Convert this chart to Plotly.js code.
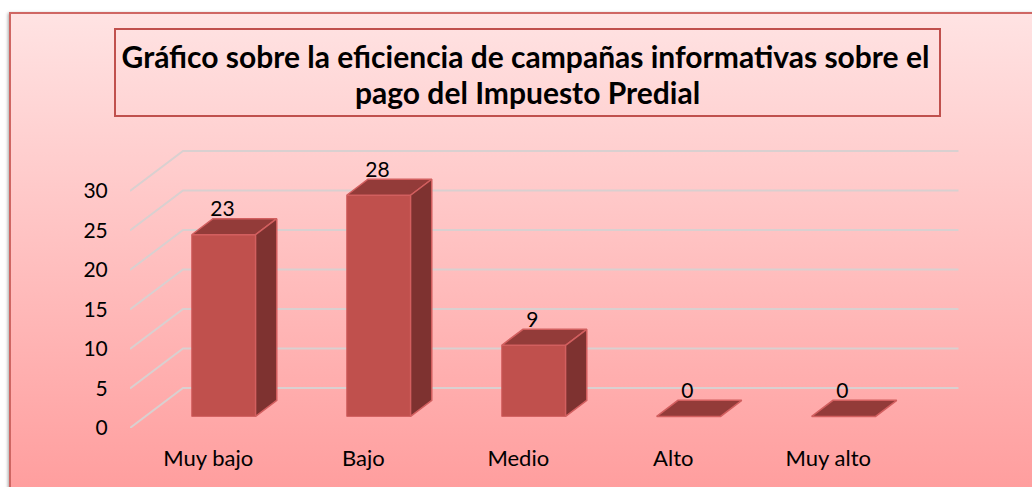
<!DOCTYPE html>
<html><head><meta charset="utf-8">
<script src="https://cdn.plot.ly/plotly-3.0.1.min.js"></script>
<style>
html,body{margin:0;padding:0;background:#fff;width:1032px;height:487px;overflow:hidden}
#bg{position:absolute;left:10px;top:13px;width:1040px;height:490px;background:linear-gradient(#ffe3e3,#ff9c9c);box-shadow:-2px 0 3px rgba(0,0,0,.35)}
#chart{position:absolute;left:0;top:0;width:1032px;height:487px}
</style></head><body>
<div id="bg"></div><div id="chart"></div>
<script>
const categories=["Muy bajo","Bajo","Medio","Alto","Muy alto"];
const values=[23,28,9,0,0];
const yTicks=[0,5,10,15,20,25,30];
const titleLine1="Gráfico sobre la eficiencia de campañas informativas sobre el";
const titleLine2="pago del Impuesto Predial";

// pseudo-3D depth: how far one full step of depth moves a point, in axis units
const depthX=53/155, depthY=40/7.89;
const frontDepth=0.29, backDepth=0.69, halfW=0.206;
const px=(i,d)=>i+depthX*d, py=(v,d)=>v+depthY*d;

const traces=[];
const edge="#d25f5f";
// front faces
traces.push({type:"bar",hoverinfo:"skip",showlegend:false,
  x:categories.map((c,i)=>px(i,frontDepth)),
  y:values,base:values.map(()=>py(0,frontDepth)),width:halfW*2,
  marker:{color:"#c0504d",line:{color:edge,width:1}}});
categories.forEach((c,i)=>{
  const v=values[i], xL=i-halfW, xR=i+halfW;
  traces.push({type:"scatter",mode:"lines",fill:"toself",fillcolor:"#933b39",hoverinfo:"skip",showlegend:false,
    x:[px(xL,frontDepth),px(xR,frontDepth),px(xR,backDepth),px(xL,backDepth),px(xL,frontDepth)],
    y:[py(v,frontDepth),py(v,frontDepth),py(v,backDepth),py(v,backDepth),py(v,frontDepth)],
    line:{color:edge,width:1.5}});
  if(v>0){
    traces.push({type:"scatter",mode:"lines",fill:"toself",fillcolor:"#7e3230",hoverinfo:"skip",showlegend:false,
      x:[px(xR,frontDepth),px(xR,backDepth),px(xR,backDepth),px(xR,frontDepth),px(xR,frontDepth)],
      y:[py(0,frontDepth),py(0,backDepth),py(v,backDepth),py(v,frontDepth),py(0,frontDepth)],
      line:{color:edge,width:1.5}});
  }
});
// data labels
traces.push({type:"scatter",mode:"text",hoverinfo:"skip",showlegend:false,
  x:categories.map((c,i)=>px(i,frontDepth)-0.008),
  y:values.map(v=>py(v,backDepth)-0.33),
  text:values.map(String),textposition:"top center",cliponaxis:false,
  textfont:{family:"Lato",size:21,color:"#000"}});

const L=130,R=1032,T=130,B=427.7;
const W=R-L,H=B-T;
const x0=-0.505;
const gridShapes=[];
yTicks.forEach(v=>gridShapes.push({type:"path",xref:"x",yref:"y",layer:"below",
  path:`M${x0},${v} L${x0+depthX},${v+depthY} L4.84,${v+depthY}`,
  line:{color:"#d9d0d0",width:2},fillcolor:"rgba(0,0,0,0)"}));
const titleFont={family:"Lato",size:30,color:"#000",weight:700};
const layout={
  width:1032,height:487,
  margin:{l:L,r:1032-R,t:T,b:487-B,pad:0},
  paper_bgcolor:"rgba(0,0,0,0)",plot_bgcolor:"rgba(0,0,0,0)",
  showlegend:false,
  barmode:"overlay",
  title:{text:titleLine1,font:titleFont,
    x:525.5/1032,xanchor:"center",xref:"container",y:1-57/487,yanchor:"middle",yref:"container"},
  annotations:[{text:titleLine2,font:titleFont,showarrow:false,
    xref:"paper",yref:"paper",x:(527-L)/W,y:(B-92)/H,xanchor:"center",yanchor:"middle"}],
  xaxis:{range:[x0,x0+W/155],tickmode:"array",tickvals:categories.map((c,i)=>i),ticktext:categories,
    showgrid:false,zeroline:false,showline:false,ticks:"outside",ticklen:11,tickcolor:"rgba(0,0,0,0)",
    tickfont:{family:"Lato",size:22,color:"#000"},fixedrange:true},
  yaxis:{range:[0,H/7.89],tickmode:"array",tickvals:yTicks,ticktext:yTicks.map(String),
    showgrid:false,zeroline:false,showline:false,ticks:"outside",ticklen:17,tickcolor:"rgba(0,0,0,0)",
    tickfont:{family:"Lato",size:21,color:"#000"},fixedrange:true},
  shapes:gridShapes.concat([
    {type:"rect",xref:"paper",yref:"paper",
      x0:(115-L)/W,x1:(940-L)/W,y0:(B-116)/H,y1:(B-29)/H,line:{color:"#c0504d",width:2},fillcolor:"rgba(0,0,0,0)",layer:"below"},
    {type:"rect",xref:"paper",yref:"paper",
      x0:(10-L)/W,x1:(1045-L)/W,y0:(B-500)/H,y1:(B-13)/H,line:{color:"#cf6663",width:2},fillcolor:"rgba(0,0,0,0)",layer:"below"}
  ])
};
Plotly.newPlot("chart",traces,layout,{displayModeBar:false,staticPlot:true});
</script></body></html>
